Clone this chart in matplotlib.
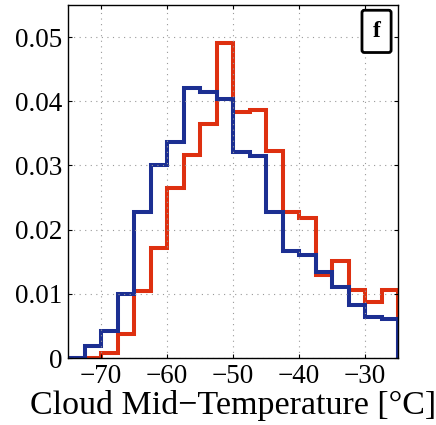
import numpy as np
import matplotlib
matplotlib.use("Agg")
import matplotlib.pyplot as plt

bin_edges = np.arange(-75, -25 + 0.01, 2.5)
blue_vals = [0.0, 0.0019, 0.0042, 0.0099, 0.0227, 0.0300, 0.0337, 0.0421, 0.0415, 0.0404,
             0.0321, 0.0314, 0.0227, 0.0166, 0.0160, 0.0134, 0.0111, 0.0082, 0.0064, 0.0060]
red_vals = [0.0, 0.0, 0.0008, 0.0037, 0.0104, 0.0172, 0.0265, 0.0316, 0.0365, 0.0491,
            0.0383, 0.0387, 0.0322, 0.0228, 0.0218, 0.0129, 0.0151, 0.0106, 0.0088, 0.0106]
xticks = [-70, -60, -50, -40, -30]
yticks = [0, 0.01, 0.02, 0.03, 0.04, 0.05]
ytick_labels = ["0", "0.01", "0.02", "0.03", "0.04", "0.05"]
panel_label = "f"
xlabel = "Cloud Mid\u2212Temperature [\u00b0C]"

plt.rcParams['font.family'] = ['Liberation Serif', 'DejaVu Serif']
plt.rcParams['axes.unicode_minus'] = True

fig = plt.figure(figsize=(4.36, 4.25), dpi=100)
ax = fig.add_axes([68/436, 1 - 358/425, (398-68)/436, (358-5)/425])

red_c = '#de3010'
blue_c = '#1c2f92'
ax.stairs(red_vals, bin_edges, color=red_c, linewidth=2.9, baseline=0)
ax.stairs(blue_vals, bin_edges, color=blue_c, linewidth=2.9, baseline=0)

ax.set_xlim(-75, -25)
ax.set_ylim(0, 0.055)
ax.set_xticks(xticks)
ax.set_xticklabels([str(t).replace('-', '\u2212') for t in xticks])
ax.set_yticks(yticks)
ax.set_yticklabels(ytick_labels)
ax.tick_params(direction='in', length=3, width=0.8, top=True, right=True, labelsize=19.5, pad=4)
ax.grid(True, linestyle=(0, (1, 4)), color='#999999', linewidth=0.8)
for s in ax.spines.values():
    s.set_linewidth(1.0)
ax.set_xlabel(xlabel, fontsize=24.5, labelpad=1)

ax.text(0.935, 0.955, panel_label, transform=ax.transAxes, ha='center', va='top',
        fontsize=17, fontweight='bold',
        bbox=dict(boxstyle='round,pad=0.45,rounding_size=0.1', facecolor='white', edgecolor='black', linewidth=2))

fig.savefig('out.png', dpi=100)
